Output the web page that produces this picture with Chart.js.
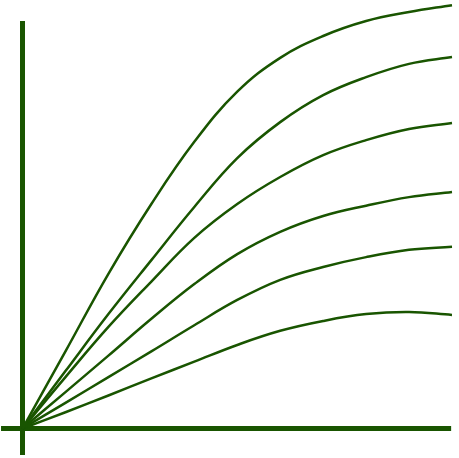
<!DOCTYPE html>
<html>
<head>
<meta charset="utf-8">
<script src="https://cdn.jsdelivr.net/npm/chart.js@4/dist/chart.umd.min.js"></script>
<style>
  html, body { margin: 0; padding: 0; background: #fff; }
  #wrap { width: 459px; height: 458px; }
</style>
</head>
<body>
<div id="wrap"><canvas id="c"></canvas></div>
<script>
// sample positions along x (0..10)
const xValues = [0, 1, 2, 3, 4, 5, 6, 7, 8, 9, 10]

// six curves, top to bottom
const curve1 = [0, 18.0, 36.1, 52.4, 66.9, 78.6, 86.5, 91.6, 95.1, 97.2, 98.8]
const curve2 = [0, 13.4, 26.7, 39.3, 51.7, 63.1, 71.5, 77.8, 82.0, 85.1, 86.7]
const curve3 = [0, 12.0, 23.7, 34.3, 44.5, 52.4, 58.7, 63.8, 67.3, 69.9, 71.3]
const curve4 = [0, 8.5, 17.0, 25.6, 33.7, 40.7, 45.9, 49.6, 52.0, 54.0, 55.2]
const curve5 = [0, 6.0, 12.0, 18.0, 24.1, 30.0, 34.7, 37.7, 40.0, 41.7, 42.4]
const curve6 = [0, 3.8, 7.7, 11.7, 15.6, 19.5, 22.8, 25.1, 26.7, 27.2, 26.5]

// axis line extents (they run a little past the origin)
const xAxisLine = [-0.5, 9.98]
const yAxisLine = [-6.2, 95.1]

const green = '#195500'

const curves = [curve1, curve2, curve3, curve4, curve5, curve6]

const datasets = curves.map(c => ({
  data: xValues.map((x, i) => ({ x: x, y: c[i] })),
  borderColor: green,
  borderWidth: 2.5,
  pointRadius: 0,
  fill: false,
  tension: 0.4
}))

datasets.push({
  data: xAxisLine.map(x => ({ x: x, y: 0 })),
  borderColor: green,
  borderWidth: 5,
  pointRadius: 0,
  fill: false
})
datasets.push({
  data: yAxisLine.map(y => ({ x: 0, y: y })),
  borderColor: green,
  borderWidth: 5,
  pointRadius: 0,
  fill: false
})

new Chart(document.getElementById('c'), {
  type: 'line',
  data: { datasets },
  options: {
    responsive: true,
    maintainAspectRatio: false,
    animation: false,
    layout: { padding: 0 },
    plugins: { legend: { display: false }, tooltip: { enabled: false } },
    scales: {
      x: { type: 'linear', min: -0.524, max: 10.163, display: false },
      y: { type: 'linear', min: -6.88, max: 100, display: false }
    }
  }
})
</script>
</body>
</html>
